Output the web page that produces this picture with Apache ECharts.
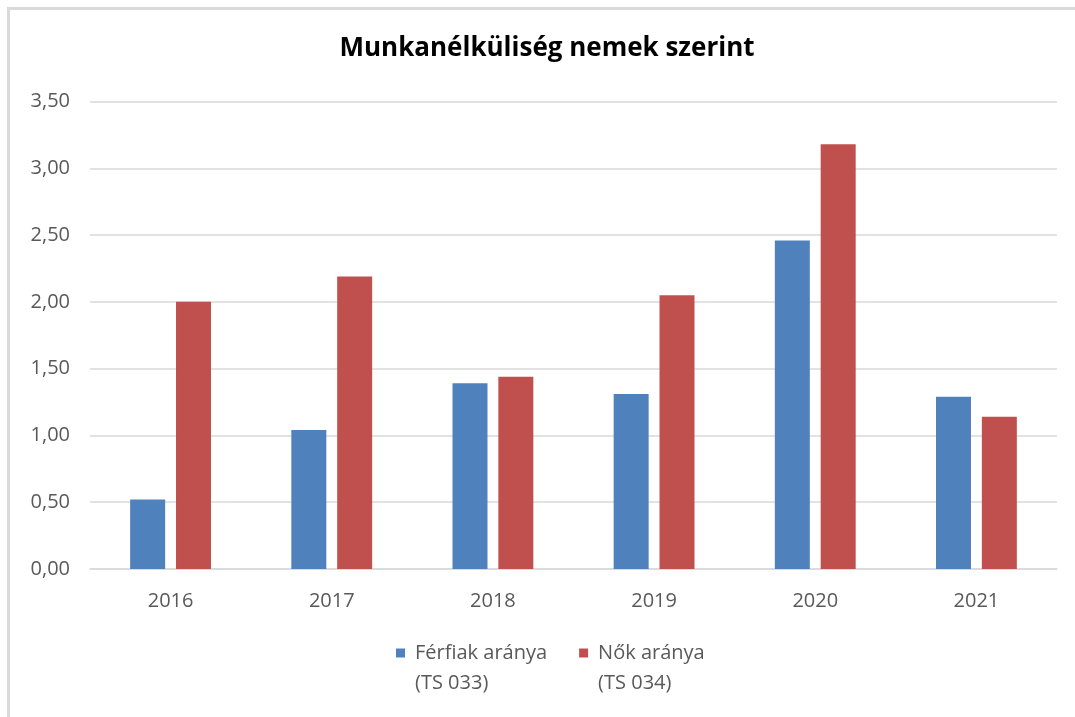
<!DOCTYPE html>
<html>
<head>
<meta charset="utf-8">
<script src="https://cdn.jsdelivr.net/npm/echarts@6/dist/echarts.min.js"></script>
<style>
  html, body { margin: 0; padding: 0; background: #fff; }
  #frame { position: absolute; left: 7px; top: 7px; width: 1068px; height: 710px; border-left: 3px solid #d9d9d9; border-top: 3px solid #d9d9d9; }
  #chart { position: absolute; left: 0; top: 0; width: 1075px; height: 717px; }
</style>
</head>
<body>
<div id="frame"></div>
<div id="chart"></div>
<script>
const titleText = 'Munkanélküliség nemek szerint';
const categories = ['2016', '2017', '2018', '2019', '2020', '2021'];
const maleName = 'Férfiak aránya\n(TS 033)';
const femaleName = 'Nők aránya\n(TS 034)';
const maleValues = [0.52, 1.04, 1.39, 1.31, 2.46, 1.29];
const femaleValues = [2.00, 2.19, 1.44, 2.05, 3.18, 1.14];
const yTicks = { min: 0, max: 3.5, interval: 0.5 };

const chart = echarts.init(document.getElementById('chart'), null, { renderer: 'canvas' });
const font = '"Open Sans", "Noto Sans", sans-serif';
const gray = '#595959';
const gridColor = '#d9d9d9';

chart.setOption({
  animation: false,
  backgroundColor: 'transparent',
  textStyle: { fontFamily: font },
  title: {
    text: titleText,
    left: 547,
    top: 36,
    padding: 0,
    textAlign: 'center',
    textStyle: { fontFamily: font, fontSize: 26, fontWeight: 'bold', color: '#000' }
  },
  grid: { left: 90, right: 18, top: 101.5, bottom: 148, containLabel: false },
  xAxis: {
    type: 'category',
    data: categories,
    axisLine: { lineStyle: { color: gridColor, width: 1.5 } },
    axisTick: { show: false },
    axisLabel: { color: gray, fontSize: 20, margin: 22, fontFamily: font }
  },
  yAxis: {
    type: 'value',
    min: yTicks.min, max: yTicks.max, interval: yTicks.interval,
    axisLine: { show: false },
    axisTick: { show: false },
    splitLine: { lineStyle: { color: gridColor, width: 1.5 } },
    axisLabel: {
      color: gray, fontSize: 20, margin: 20, fontFamily: font,
      formatter: v => v.toFixed(2).replace('.', ',')
    }
  },
  legend: {
    left: 396,
    top: 608,
    padding: 0,
    itemWidth: 9,
    itemHeight: 9,
    itemGap: 32,
    icon: 'rect',
    formatter: name => ' \n' + name,
    textStyle: { color: gray, fontSize: 20, lineHeight: 30, fontFamily: font, padding: [0, 0, 0, 5] },
    data: [maleName, femaleName]
  },
  series: [
    {
      name: maleName, type: 'bar', data: maleValues,
      barWidth: 35, barGap: '31%',
      itemStyle: { color: '#4f81bd' }
    },
    {
      name: femaleName, type: 'bar', data: femaleValues,
      barWidth: 35, barGap: '31%',
      itemStyle: { color: '#c0504d' }
    }
  ]
});
</script>
</body>
</html>
